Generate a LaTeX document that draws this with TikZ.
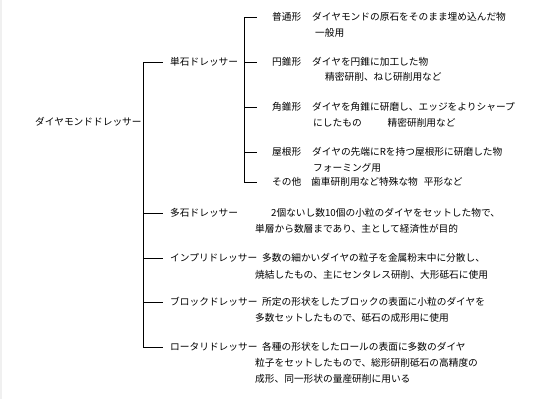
\documentclass[tikz,border=0pt]{standalone}
\usepackage{fontspec}
\setmainfont{Noto Sans CJK JP}
\begin{document}
\begin{tikzpicture}[x=1pt,y=-1pt,
  txt/.style={anchor=west,inner sep=0pt,font=\fontsize{9.7}{11}\selectfont},
  conn/.style={draw=black,line width=1pt}]
\useasboundingbox (0,0) rectangle (541,399);
\fill[black!6] (0,0) rectangle (2,399);
% root
\node[txt] (root) at (35,122) {ダイヤモンドドレッサー};
% main trunk
\coordinate (t0) at (143,62);
\coordinate (t4) at (143,347);
\draw[conn] (t0) -- (t4);
% children
\node[txt] (c1) at (170,62) {単石ドレッサー};
\node[txt] (c2) at (170,213) {多石ドレッサー};
\node[txt] (c3) at (170,258) {インプリドレッサー};
\node[txt] (c4) at (170,302) {ブロックドレッサー};
\node[txt] (c5) at (170,347) {ロータリドレッサー};
\foreach \n/\yy in {1/62,2/213,3/258,4/302,5/347}{
  \coordinate (h\n) at (143,\yy);
  \draw[conn] (h\n) -- ([xshift=-7pt]c\n.west);
}
% sub trunk for 単石
\coordinate (s0) at (244,17);
\coordinate (s4) at (244,182);
\draw[conn] (s0) -- (s4);
\node[txt] (g1) at (272,17) {普通形};
\node[txt] (g2) at (272,62) {円錐形};
\node[txt] (g3) at (272,107) {角錐形};
\node[txt] (g4) at (272,152) {屋根形};
\node[txt] (g5) at (272,182) {その他};
\foreach \n/\yy in {1/17,2/62,3/107,4/152,5/182}{
  \coordinate (k\n) at (244,\yy);
  \draw[conn] (k\n) -- ([xshift=-15pt]g\n.west);
}
\node[txt] (d1a) at (312,17) {ダイヤモンドの原石をそのまま埋め込んだ物};
\node[txt] (d1b) at (315,33) {一般用};
\node[txt] (d2a) at (312,62) {ダイヤを円錐に加工した物};
\node[txt] (d2b) at (325,77) {精密研削、ねじ研削用など};
\node[txt] (d3a) at (312,107) {ダイヤを角錐に研磨し、エッジをよりシャープ};
\node[txt] (d3b) at (313,123) {にしたもの\hspace{26pt}精密研削用など};
\node[txt] (d4a) at (312,152) {ダイヤの先端にRを持つ屋根形に研磨した物};
\node[txt] (d4b) at (313,168) {フォーミング用};
\node[txt] (d5a) at (311,182) {歯車研削用など特殊な物\hspace{6pt}平形など};
% other descriptions
\node[txt] (e2a) at (271,213) {2個ないし数10個の小粒のダイヤをセットした物で、};
\node[txt] (e2b) at (255,229) {単層から数層まであり、主として経済性が目的};
\node[txt] (e3a) at (262,258) {多数の細かいダイヤの粒子を金属粉末中に分散し、};
\node[txt] (e3b) at (255,275) {焼結したもの、主にセンタレス研削、大形砥石に使用};
\node[txt] (e4a) at (262,302) {所定の形状をしたブロックの表面に小粒のダイヤを};
\node[txt] (e4b) at (255,318) {多数セットしたもので、砥石の成形用に使用};
\node[txt] (e5a) at (262,347) {各種の形状をしたロールの表面に多数のダイヤ};
\node[txt] (e5b) at (255,363) {粒子をセットしたもので、総形研削砥石の高精度の};
\node[txt] (e5c) at (255,379) {成形、同一形状の量産研削に用いる};
\end{tikzpicture}
\end{document}
